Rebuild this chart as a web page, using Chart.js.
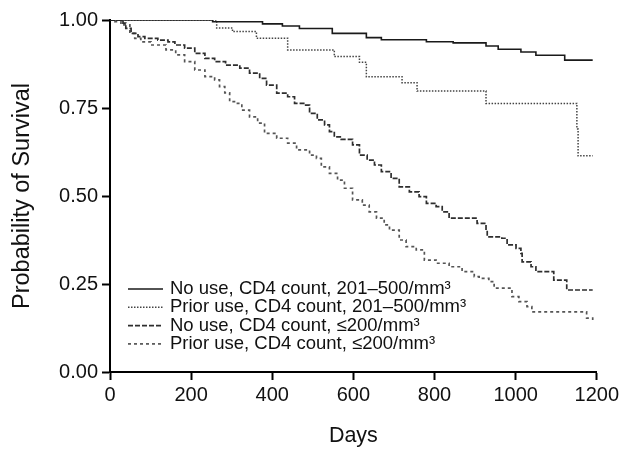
<!doctype html>
<html>
<head>
<meta charset="utf-8">
<title>Probability of Survival</title>
<script src="https://cdn.jsdelivr.net/npm/chart.js@4.4.0/dist/chart.umd.min.js"></script>
<style>
  html, body { margin: 0; padding: 0; background: #fff; }
  #holder { width: 622px; height: 449px; }
</style>
</head>
<body>
<div id="holder"><canvas id="kmChart"></canvas></div>
<script>
// Kaplan-Meier curves (day where the step happens, survival after it)
var noUseHighDays  = [0, 253, 376, 425, 467, 548, 632, 669, 780, 846, 927, 957, 1013, 1050, 1121, 1190];
var noUseHighSurv  = [1, 0.995, 0.989, 0.983, 0.976, 0.962, 0.95, 0.944, 0.938, 0.935, 0.926, 0.917, 0.909, 0.90, 0.886, 0.886];

var priorHighDays  = [0, 263, 302, 361, 438, 553, 615, 632, 720, 757, 927, 1151, 1154, 1190];
var priorHighSurv  = [1, 0.977, 0.967, 0.948, 0.915, 0.896, 0.88, 0.839, 0.822, 0.798, 0.763, 0.69, 0.614, 0.614];

var noUseLowDays   = [0, 32, 39, 52, 69, 86, 118, 143, 160, 184, 209, 234, 258, 285, 320, 344, 369, 386, 411, 438,
                      455, 480, 492, 511, 529, 541, 553, 570, 598, 615, 634, 652, 669, 693, 713, 738, 762, 780, 804,
                      819, 836, 905, 927, 930, 966, 979, 1001, 1013, 1016, 1038, 1050, 1094, 1126, 1190];
var noUseLowSurv   = [1, 0.991, 0.976, 0.962, 0.953, 0.948, 0.943, 0.938, 0.929, 0.92, 0.905, 0.891, 0.882, 0.872,
                      0.863, 0.849, 0.834, 0.815, 0.792, 0.782, 0.763, 0.758, 0.735, 0.716, 0.702, 0.683, 0.668,
                      0.661, 0.645, 0.616, 0.602, 0.588, 0.569, 0.55, 0.526, 0.512, 0.498, 0.479, 0.47, 0.455,
                      0.437, 0.422, 0.403, 0.384, 0.38, 0.361, 0.351, 0.337, 0.313, 0.299, 0.285, 0.261, 0.233, 0.233];

var priorLowDays   = [0, 12, 27, 49, 61, 76, 101, 138, 162, 184, 209, 234, 258, 270, 283, 295, 312, 325, 344, 364,
                      381, 411, 438, 460, 492, 509, 521, 541, 561, 578, 598, 622, 639, 657, 676, 689, 713, 730, 755,
                      775, 804, 836, 868, 898, 910, 934, 947, 991, 1008, 1028, 1040, 1175, 1190];
var priorLowSurv   = [1, 0.995, 0.986, 0.962, 0.948, 0.938, 0.929, 0.915, 0.901, 0.882, 0.858, 0.839, 0.83, 0.811,
                      0.793, 0.768, 0.763, 0.744, 0.725, 0.707, 0.678, 0.664, 0.65, 0.631, 0.616, 0.607, 0.583,
                      0.564, 0.545, 0.522, 0.489, 0.474, 0.455, 0.437, 0.418, 0.403, 0.375, 0.356, 0.347, 0.318,
                      0.309, 0.299, 0.285, 0.271, 0.266, 0.257, 0.238, 0.214, 0.2, 0.186, 0.171, 0.153, 0.148];

var seriesLabels = [
    'No use, CD4 count, 201\u2013500/mm\u00b3',
    'Prior use, CD4 count, 201\u2013500/mm\u00b3',
    'No use, CD4 count, \u2264200/mm\u00b3',
    'Prior use, CD4 count, \u2264200/mm\u00b3'
];
var xTicks = [0, 200, 400, 600, 800, 1000, 1200];
var yTicks = [0, 0.25, 0.5, 0.75, 1];

function toPoints(days, surv) {
    var pts = [];
    for (var i = 0; i < days.length; i++) {
        pts.push({x: days[i], y: surv[i]});
    }
    return pts;
}

var FONT = "'Liberation Sans', Arial, sans-serif";

// legend drawn inside the plot, lower left
var insideLegend = {
    id: 'insideLegend',
    afterDatasetsDraw: function(chart) {
        var ctx = chart.ctx;
        var area = chart.chartArea;
        var x0 = area.left + 18, x1 = area.left + 53, tx = area.left + 60;
        var y = 289;
        ctx.save();
        ctx.font = '18.5px ' + FONT;
        ctx.textBaseline = 'middle';
        chart.data.datasets.forEach(function(ds) {
            ctx.beginPath();
            ctx.strokeStyle = ds.borderColor;
            ctx.lineWidth = ds.borderWidth;
            ctx.setLineDash(ds.borderDash || []);
            ctx.moveTo(x0, y);
            ctx.lineTo(x1, y);
            ctx.stroke();
            ctx.setLineDash([]);
            ctx.fillStyle = '#111';
            ctx.fillText(ds.label, tx, y);
            y += 18.3;
        });
        ctx.restore();
    }
};

var ctx = document.getElementById('kmChart').getContext('2d');
window.kmChart = new Chart(ctx, {
    type: 'line',
    data: {
        datasets: [
            {
                label: seriesLabels[0],
                data: toPoints(noUseHighDays, noUseHighSurv),
                borderColor: '#1a1a1a',
                borderWidth: 1.6,
                borderDash: [],
                stepped: true,
                pointRadius: 0
            },
            {
                label: seriesLabels[1],
                data: toPoints(priorHighDays, priorHighSurv),
                borderColor: '#444',
                borderWidth: 1.5,
                borderDash: [1.5, 1.5],
                stepped: true,
                pointRadius: 0
            },
            {
                label: seriesLabels[2],
                data: toPoints(noUseLowDays, noUseLowSurv),
                borderColor: '#2e2e2e',
                borderWidth: 1.7,
                borderDash: [5, 2],
                stepped: true,
                pointRadius: 0
            },
            {
                label: seriesLabels[3],
                data: toPoints(priorLowDays, priorLowSurv),
                borderColor: '#555',
                borderWidth: 1.7,
                borderDash: [3, 3],
                stepped: true,
                pointRadius: 0
            }
        ]
    },
    options: {
        responsive: true,
        maintainAspectRatio: false,
        animation: false,
        layout: { padding: { top: 20, right: 24, bottom: 0, left: 0 } },
        plugins: {
            legend: { display: false },
            tooltip: { enabled: false }
        },
        scales: {
            x: {
                type: 'linear',
                min: 0,
                max: 1200,
                afterBuildTicks: function(scale) {
                    scale.ticks = xTicks.map(function(v) { return {value: v}; });
                },
                afterFit: function(scale) { scale.height = 77; },
                border: { display: true, color: '#000', width: 2 },
                grid: { drawOnChartArea: false, drawTicks: true, tickLength: 8, tickWidth: 2, tickColor: '#000' },
                ticks: {
                    color: '#111',
                    font: { family: FONT, size: 20 },
                    padding: 3,
                    maxRotation: 0,
                    callback: function(v) { return String(v); }
                },
                title: { display: true, text: 'Days', color: '#111', font: { family: FONT, size: 21.5 }, padding: { top: 0, bottom: 0 } }
            },
            y: {
                min: 0,
                max: 1,
                afterBuildTicks: function(scale) {
                    scale.ticks = yTicks.map(function(v) { return {value: v}; });
                },
                afterFit: function(scale) { scale.width = 110; },
                border: { display: true, color: '#000', width: 2 },
                grid: { drawOnChartArea: false, drawTicks: true, tickLength: 8, tickWidth: 2, tickColor: '#000' },
                ticks: {
                    color: '#111',
                    font: { family: FONT, size: 20 },
                    padding: 4,
                    callback: function(v) { return v.toFixed(2); }
                },
                title: { display: true, text: 'Probability of Survival', color: '#111', font: { family: FONT, size: 23.5 }, padding: { top: 8, bottom: 4 } }
            }
        }
    },
    plugins: [insideLegend]
});
</script>
</body>
</html>
